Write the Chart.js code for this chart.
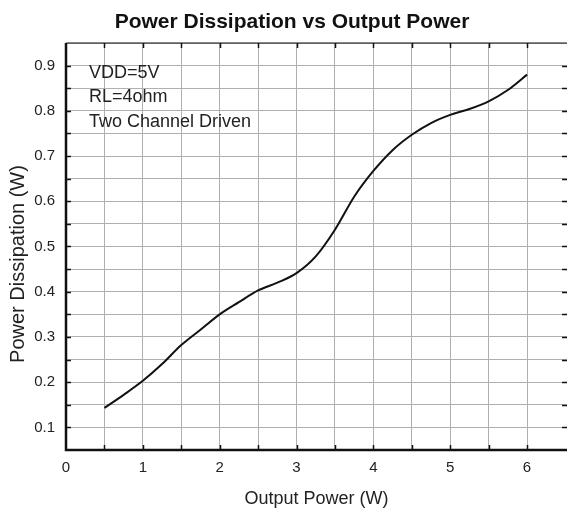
<!DOCTYPE html>
<html><head><meta charset="utf-8">
<script src="https://cdn.jsdelivr.net/npm/chart.js@4/dist/chart.umd.min.js"></script>
<style>html,body{margin:0;padding:0;background:#fff}#wrap{width:567px;height:515px}</style>
</head><body><div id="wrap"><canvas id="c" width="567" height="515"></canvas></div>
<script>
const outputPower = [0.5, 0.75, 1.0, 1.25, 1.5, 1.75, 2.0, 2.25, 2.5, 2.75, 3.0, 3.25, 3.5, 3.75, 4.0, 4.25, 4.5, 4.75, 5.0, 5.25, 5.5, 5.75, 6.0];
const powerDissipation = [0.143, 0.172, 0.203, 0.240, 0.282, 0.316, 0.350, 0.377, 0.403, 0.420, 0.441, 0.478, 0.537, 0.610, 0.667, 0.713, 0.747, 0.773, 0.791, 0.804, 0.821, 0.846, 0.880];
const annotations = ["VDD=5V", "RL=4ohm", "Two Channel Driven"];
const xTickLabels = ["0","1","2","3","4","5","6"];
const yTickLabels = ["0.1","0.2","0.3","0.4","0.5","0.6","0.7","0.8","0.9"];
const chartTitle = "Power Dissipation vs Output Power";
const xTitle = "Output Power (W)";
const yTitle = "Power Dissipation (W)";

const FONT = "'Liberation Sans', Arial, sans-serif";
const framePlugin = {
  id: 'frame',
  afterDraw(chart) {
    const {ctx, chartArea: a, scales} = chart;
    const xs = scales.x, ys = scales.y;
    ctx.save();
    ctx.strokeStyle = '#111';
    ctx.lineWidth = 1.5;
    for (let v = 0.5; v < 6.5; v += 0.5) {
      const px = Math.round(xs.getPixelForValue(v)) + 0.5;
      ctx.beginPath();
      ctx.moveTo(px, a.bottom); ctx.lineTo(px, a.bottom - 5);
      ctx.moveTo(px, a.top); ctx.lineTo(px, a.top + 5);
      ctx.stroke();
    }
    for (let i = 1; i < 18; i++) {
      const v = 0.05 + i * 0.05;
      const py = Math.round(ys.getPixelForValue(v)) + 0.5;
      ctx.beginPath();
      ctx.moveTo(a.left, py); ctx.lineTo(a.left + 5, py);
      ctx.moveTo(a.right, py); ctx.lineTo(a.right - 5, py);
      ctx.stroke();
    }
    ctx.lineWidth = 1.2;
    ctx.beginPath();
    ctx.moveTo(a.left, a.top); ctx.lineTo(a.right, a.top);
    ctx.stroke();
    ctx.lineWidth = 2.5;
    ctx.beginPath();
    ctx.moveTo(a.left, a.top); ctx.lineTo(a.left, a.bottom); ctx.lineTo(a.right, a.bottom);
    ctx.stroke();
    // title
    ctx.fillStyle = '#111';
    ctx.font = 'bold 21px ' + FONT;
    ctx.textAlign = 'center';
    ctx.textBaseline = 'alphabetic';
    ctx.fillText(chartTitle, 292, 28);
    // y title
    ctx.fillStyle = '#222';
    ctx.save();
    ctx.translate(18, 264);
    ctx.rotate(-Math.PI / 2);
    ctx.font = '20px ' + FONT;
    ctx.textAlign = 'center';
    ctx.textBaseline = 'middle';
    ctx.fillText(yTitle, 0, 0);
    ctx.restore();
    // annotation text
    ctx.font = '18px ' + FONT;
    ctx.textBaseline = 'middle';
    ctx.textAlign = 'left';
    const ty = [73, 97, 122];
    annotations.forEach((t, i) => ctx.fillText(t, 89, ty[i]));
    ctx.restore();
  }
};

new Chart(document.getElementById('c'), {
  type: 'scatter',
  data: {
    datasets: [{
      data: outputPower.map((x, i) => ({x, y: powerDissipation[i]})),
      showLine: true,
      borderColor: '#111',
      borderWidth: 2,
      pointRadius: 0,
      cubicInterpolationMode: 'monotone',
      fill: false
    }]
  },
  options: {
    responsive: false,
    animation: false,
    layout: { padding: { left: 0, right: 0, top: 43, bottom: 0 } },
    plugins: {
      legend: { display: false },
      tooltip: { enabled: false },
      title: { display: false }
    },
    scales: {
      x: {
        type: 'linear', min: 0, max: 6.52,
        border: { display: false },
        grid: { color: '#b0b0b0', lineWidth: 1, drawTicks: false },
        ticks: {
          stepSize: 0.5, color: '#222', padding: 9,
          font: { family: FONT, size: 15 },
          maxRotation: 0, autoSkip: false,
          callback: (v) => { const r = Math.round(v * 2); return r % 2 === 0 ? xTickLabels[r / 2] : ''; }
        },
        title: { display: true, text: xTitle, color: '#222', font: { family: FONT, size: 18 }, padding: { top: 8, bottom: 5 } },
        afterFit: (s) => { s.height = 65; s.paddingRight = 0; s.paddingLeft = 0; }
      },
      y: {
        type: 'linear', min: 0.05, max: 0.95,
        border: { display: false },
        grid: { color: '#b0b0b0', lineWidth: 1, drawTicks: false },
        ticks: {
          stepSize: 0.05, color: '#222', padding: 11,
          font: { family: FONT, size: 15 },
          autoSkip: false,
          callback: (v) => { const r = Math.round(v * 20); return r % 2 === 0 ? yTickLabels[r / 2 - 1] : ''; }
        },
        title: { display: false },
        afterFit: (s) => { s.width = 66; s.paddingTop = 0; s.paddingBottom = 0; }
      }
    }
  },
  plugins: [framePlugin]
});
</script>
</body></html>
